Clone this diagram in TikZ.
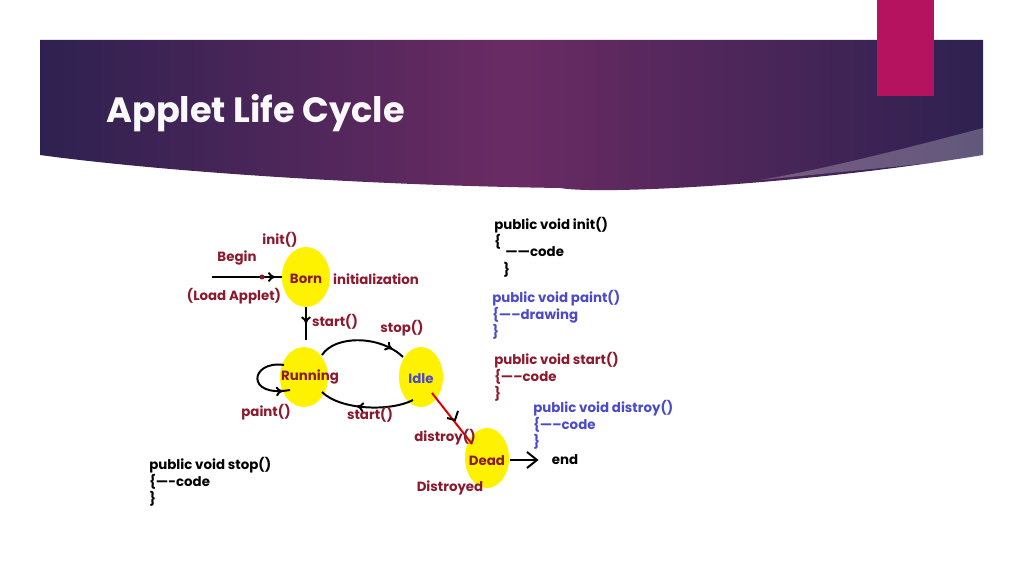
\documentclass[tikz,border=0pt]{standalone}
\usepackage{fontspec}
\setmainfont{Poppins}
\usetikzlibrary{decorations.markings,arrows.meta}
\definecolor{dred}{HTML}{8B1A2E}
\definecolor{cblue}{HTML}{4B4BC8}
\definecolor{ylw}{HTML}{FFF200}
\definecolor{ban1}{HTML}{2E2150}
\definecolor{ban2}{HTML}{6A2B63}
\definecolor{pinkbar}{HTML}{B5135F}
\begin{document}
\begin{tikzpicture}[x=0.025cm,y=-0.025cm,
  st/.style={ellipse,fill=ylw,minimum width=46\pgflinewidth},
  lbl/.style={font=\fontsize{9.5}{11}\selectfont\bfseries,text=dred,inner sep=0pt},
  cd/.style={font=\fontsize{9.5}{12}\selectfont\bfseries,inner sep=0pt,anchor=west,align=left},
  ln/.style={line width=1.4pt,black},
  mid/.style={postaction={decorate},decoration={markings,mark=at position #1 with {\arrow{To[length=5pt,width=7pt]}}}}]
\useasboundingbox (0,0) rectangle (1024,576);
\fill[white] (0,0) rectangle (1024,576);
% banner
\shade[left color=ban1,right color=ban1,middle color=ban2] (40,40) -- (983,40) -- (983,155) .. controls (800,185) and (600,195) .. (560,188) .. controls (350,185) and (150,170) .. (40,155) -- cycle;
\fill[white,opacity=0.25] (983,128) .. controls (900,150) and (820,170) .. (760,180) -- (983,158) -- cycle;
\fill[pinkbar] (877,0) rectangle (934,96);
\node[font=\fontsize{25}{30}\selectfont\bfseries,text=white!95!gray,anchor=west,inner sep=0pt] (title) at (106,113) {Applet Life Cycle};
% states
\fill[ylw] (306,277) ellipse (24 and 30);
\fill[ylw] (304,377) ellipse (24 and 30);
\fill[ylw] (421,377) ellipse (22 and 30);
\fill[ylw] (487,458) ellipse (22 and 30);
\node[lbl] (born) at (306,279) {Born};
\node[lbl] (run) at (310,377) {Running};
\node[lbl,text=cblue] (idle) at (421,379) {Idle};
\node[lbl] (dead) at (487,461) {Dead};
\coordinate (beg) at (212,277);
\draw[ln,mid=0.9] (beg) -- (282,277);
\fill[dred] (262,277) circle (2.5);
\draw[ln,mid=0.5] (306,307) -- (306,340);
\draw[ln,mid=0.85] (322,355) .. controls (335,335) and (380,335) .. (403,357);
\draw[ln,mid=0.6] (413,400) .. controls (390,412) and (340,410) .. (322,392);
\draw[ln,mid=0.9] (284,365) .. controls (250,360) and (245,398) .. (290,390);
\draw[line width=1.4pt,red!85!black] (432,393) -- (472,444);
\draw[ln] (455,418) ++(-8,0) -- (455,420) -- ++(3,-9);
\draw[ln] (510,460) -- (537,460);
\draw[ln] (527,452) -- (537,460) -- (527,468);
% labels
\node[lbl] at (280,240) {init()};
\node[lbl] at (237,258) {Begin};
\node[lbl] at (234,296) {(Load Applet)};
\node[lbl] at (376,279) {initialization};
\node[lbl] at (335,322) {start()};
\node[lbl] at (402,328) {stop()};
\node[lbl] at (266,412) {paint()};
\node[lbl] at (370,415) {start()};
\node[lbl] at (445,437) {distroy()};
\node[lbl] at (450,488) {Distroyed};
\node[lbl,text=black] at (565,460) {end};
% code
\node[cd] at (494,225) {public void init()};
\node[cd] at (494,242) {\{};
\node[cd] at (505,252) {------code};
\node[cd] at (503,270) {\}};
\node[cd,text=cblue] at (492,315) {public void paint()\\\{-----drawing\\\}};
\node[cd,text=dred] at (494,377) {public void start()\\\{-----code\\\}};
\node[cd,text=cblue] at (533,425) {public void distroy()\\\{-----code\\\}};
\node[cd] at (149,482) {public void stop()\\\{----code\\\}};
\end{tikzpicture}
\end{document}
